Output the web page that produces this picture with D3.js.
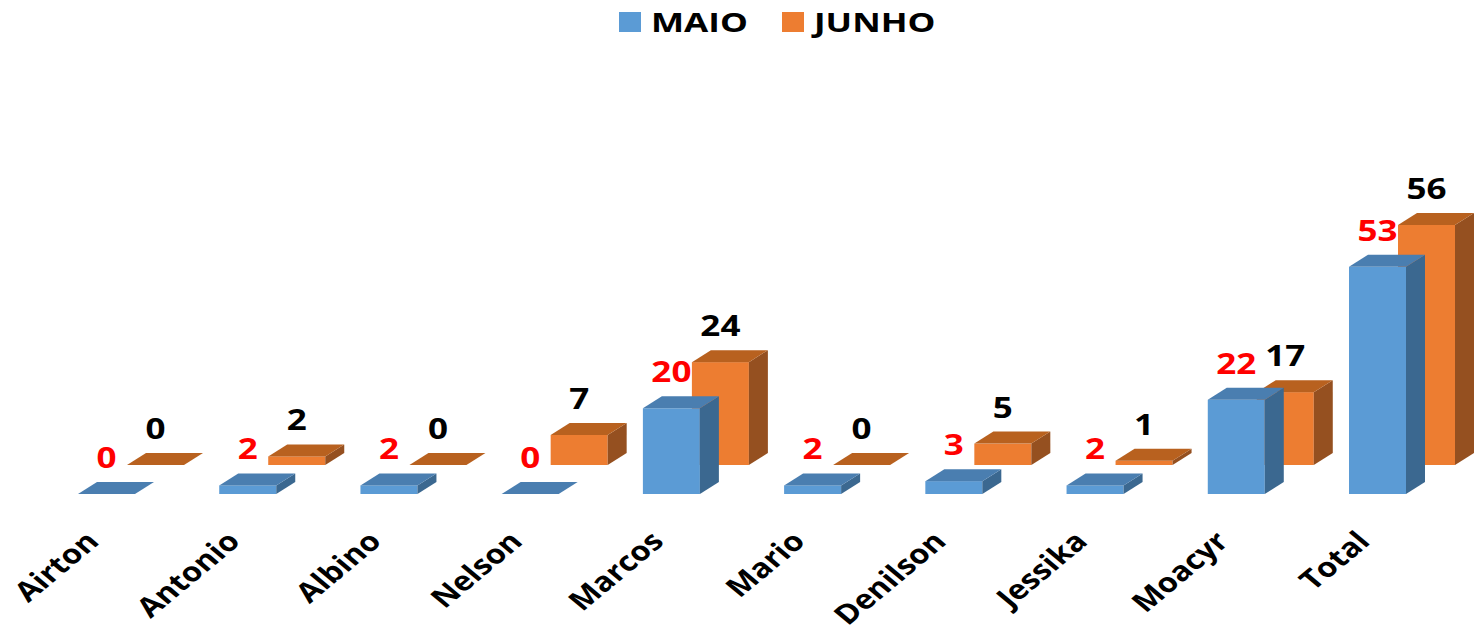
<!DOCTYPE html>
<html>
<head>
<meta charset="utf-8">
<script src="https://cdn.jsdelivr.net/npm/d3@7"></script>
<style>
  body { margin: 0; background: #fff; }
  text { font-family: "Open Sans", sans-serif; font-weight: bold; }
</style>
</head>
<body>
<svg id="chart" width="1474" height="633"></svg>
<script>
'use strict';

const categories = ["Airton", "Antonio", "Albino", "Nelson", "Marcos", "Mario", "Denilson", "Jessika", "Moacyr", "Total"];
const maio = [0, 2, 2, 0, 20, 2, 3, 2, 22, 53];
const junho = [0, 2, 0, 7, 24, 0, 5, 1, 17, 56];
const seriesNames = ["MAIO", "JUNHO"];

const width = 1474;
const height = 633;
const barWidth = 57;
const depthX = 19;
const depthY = 12;
const baseY = 494;
// the original picture is a bit stretched sideways, text too
const stretch = 1.25;

// each series sits on its own row in depth
const series = [
  {name: seriesNames[0], values: maio, shiftX: 0, shiftY: 0, labelColor: "#ff0000",
   front: "#5b9bd5", top: "#4a7eb0", side: "#3b6890"},
  {name: seriesNames[1], values: junho, shiftX: 49, shiftY: -29, labelColor: "#000000",
   front: "#ed7d31", top: "#b8611f", side: "#955020"}
];

const svg = d3.select("#chart");

const x = d3.scalePoint()
  .domain(categories)
  .range([106.5, 1377.5]);

const y = d3.scaleLinear()
  .domain([0, 56])
  .range([0, 240]);

const line = d3.line();

function drawBar(g, s, cat, value) {
  const x0 = x(cat) - barWidth / 2 + s.shiftX;
  const bottom = baseY + s.shiftY;
  const top = bottom - y(value);
  const x1 = x0 + barWidth;

  if (value > 0) {
    g.append("rect")
      .attr("x", x0).attr("y", top)
      .attr("width", barWidth).attr("height", bottom - top)
      .attr("fill", s.front);
    g.append("path")
      .attr("d", line([[x1, top], [x1 + depthX, top - depthY], [x1 + depthX, bottom - depthY], [x1, bottom]]) + "Z")
      .attr("fill", s.side);
  }
  g.append("path")
    .attr("d", line([[x0, top], [x1, top], [x1 + depthX, top - depthY], [x0 + depthX, top - depthY]]) + "Z")
    .attr("fill", s.top);
}

const bars = svg.append("g");
// back row first, so the front row covers it
series.slice().reverse().forEach(s => {
  categories.forEach((cat, i) => drawBar(bars, s, cat, s.values[i]));
});

// value labels
const labels = svg.append("g")
  .attr("font-size", 28)
  .attr("text-anchor", "middle");
series.forEach(s => {
  categories.forEach((cat, i) => {
    const lx = x(cat) + s.shiftX;
    const ly = baseY + s.shiftY - y(s.values[i]) - 26;
    labels.append("text")
      .attr("transform", `translate(${lx},${ly}) scale(${stretch},1)`)
      .attr("fill", s.labelColor)
      .text(s.values[i]);
  });
});

// category labels
svg.append("g")
  .attr("font-size", 27)
  .attr("text-anchor", "end")
  .selectAll("text")
  .data(categories)
  .join("text")
    .attr("transform", d => `translate(${x(d) - 6},543) scale(1.2,1) rotate(-45)`)
    .attr("fill", "#000")
    .text(d => d);

// legend
const legend = svg.append("g").attr("font-size", 27);
const legendX = [619, 782];
series.forEach((s, i) => {
  legend.append("rect")
    .attr("x", legendX[i]).attr("y", 12)
    .attr("width", 22).attr("height", 20)
    .attr("fill", s.front);
  legend.append("text")
    .attr("transform", `translate(${legendX[i] + 32},32) scale(1.3,1)`)
    .attr("fill", "#000")
    .text(s.name);
});
</script>
</body>
</html>
